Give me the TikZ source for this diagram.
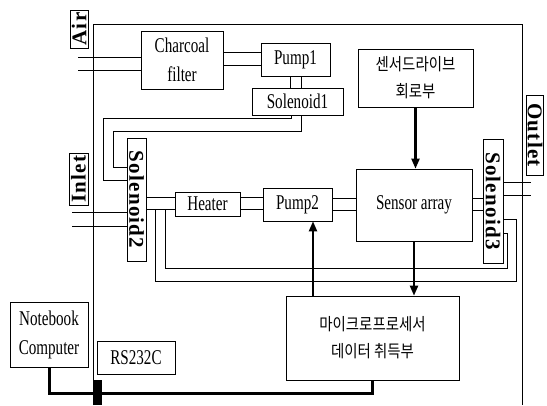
\documentclass[tikz,border=0pt]{standalone}
\usepackage{fontspec}
\usepackage{graphicx}
\setmainfont{Liberation Serif}[FakeStretch=0.72]
\newfontfamily\lblfont{Liberation Serif}[LetterSpace=6]
\newfontfamily\krfont{Noto Sans CJK KR}[FakeStretch=0.85]
\usetikzlibrary{arrows.meta}

\begin{document}
\begin{tikzpicture}[
    x=1pt, y=-1pt,
    line width=0.7pt,
    >={Triangle[length=10pt,width=8pt]},
    font=\fontsize{21}{29}\selectfont,
    box/.style={draw, inner sep=0pt, align=center},
    tagbox/.style={draw, inner sep=0pt, font=\lblfont\bfseries\fontsize{21}{22}\selectfont},
    krbox/.style={draw, inner sep=0pt, align=center, font=\krfont\fontsize{17}{27}\selectfont},
    signal/.style={->, line width=2.2pt},
    bus/.style={line width=3pt}
]
    \useasboundingbox (0,0) rectangle (547,405);

    % ================= frame =================
    \draw (93,405) |- (522,24) -- (522,405);

    % ================= upper row =================
    \node[tagbox, minimum width=18, minimum height=38] (air) at (79,29) {\rotatebox{90}{Air}};
    \node[box, minimum width=82, minimum height=58] (charcoal) at (182,60) {Charcoal\\filter};
    \node[box, minimum width=69, minimum height=33] (pump1) at (295.5,59.5) {Pump1};
    \node[box, minimum width=91, minimum height=27] (sol1) at (297.5,101.5) {Solenoid1};
    \node[krbox, minimum width=115, minimum height=58] (drive) at (415.5,78) {센서드라이브\\회로부};

    % ================= middle row =================
    \node[tagbox, minimum width=19, minimum height=52] (inlet) at (78.5,179) {\rotatebox{90}{Inlet}};
    \node[tagbox, minimum width=19, minimum height=123] (sol2) at (136.5,199.5) {\rotatebox{-90}{Solenoid2}};
    \node[box, minimum width=65, minimum height=24] (heater) at (207.5,204) {Heater};
    \node[box, minimum width=69, minimum height=33] (pump2) at (297.5,204.5) {Pump2};
    \node[box, minimum width=116, minimum height=72] (sensor) at (414,205) {Sensor array};
    \node[tagbox, minimum width=20, minimum height=124] (sol3) at (493,201) {\rotatebox{-90}{Solenoid3}};
    \node[tagbox, minimum width=17, minimum height=80] (outlet) at (535,135) {\rotatebox{-90}{Outlet}};

    % ================= lower row =================
    \node[krbox, minimum width=173, minimum height=84] (micro) at (372.5,338) {마이크로프로세서\\데이터 취득부};
    \node[box, minimum width=78, minimum height=65] (notebook) at (49,334.5) {Notebook\\Computer};
    \node[box, minimum width=78, minimum height=33] (rs232) at (136,357.5) {RS232C};

    % ================= gas lines =================
    \coordinate (air a) at (78,57);
    \coordinate (air b) at (78,70);
    \draw (air a) -- (air a -| charcoal.west);
    \draw (air b) -- (air b -| charcoal.west);
    \draw (charcoal.east |- 0,52) -- (pump1.west |- 0,52);
    \draw (charcoal.east |- 0,65) -- (pump1.west |- 0,65);
    \draw (pump1.south -| 290,0) -- (sol1.north -| 290,0);
    \draw (pump1.south -| 301,0) -- (sol1.north -| 301,0);
    \draw (sol1.south -| 291,0) |- (103,118) |- (sol2.west |- 0,180);
    \draw (sol1.south -| 301,0) |- (113,131) |- (sol2.west |- 0,167);

    \coordinate (inlet a) at (72,212);
    \coordinate (inlet b) at (72,226);
    \draw (inlet a) -- (inlet a -| sol2.west);
    \draw (inlet b) -- (inlet b -| sol2.west);
    \draw (sol2.east |- 0,197) -- (heater.west |- 0,197);
    \draw (sol2.east |- 0,209) -- (heater.west |- 0,209);
    \draw (heater.east |- 0,197) -- (pump2.west |- 0,197);
    \draw (heater.east |- 0,209) -- (pump2.west |- 0,209);
    \draw (pump2.east |- 0,198) -- (sensor.west |- 0,198);
    \draw (pump2.east |- 0,210) -- (sensor.west |- 0,210);
    \draw (sensor.east |- 0,198) -- (sol3.west |- 0,198);
    \draw (sensor.east |- 0,210) -- (sol3.west |- 0,210);

    \coordinate (outlet a) at (531,182);
    \coordinate (outlet b) at (531,195);
    \draw (sol3.east |- outlet a) -- (outlet a);
    \draw (sol3.east |- outlet b) -- (outlet b);

    % return loops under the sensor
    \coordinate (tap a) at (165,209);
    \coordinate (tap b) at (155,209);
    \draw (tap a) |- (507,268) |- (sol3.east |- 0,233);
    \draw (tap b) |- (516,281) |- (sol3.east |- 0,219);

    % ================= signals =================
    \draw[signal] (drive.south) -- (drive.south |- sensor.north);
    \draw[signal] (sensor.south) -- (sensor.south |- micro.north);
    \draw[signal] (micro.north -| 313,0) -- (pump2.south -| 313,0);
    \draw[bus] (micro.south) |- (notebook.south |- 0,393) -- (notebook.south);
    \fill (93,380) rectangle (102,405);

\end{tikzpicture}
\end{document}
